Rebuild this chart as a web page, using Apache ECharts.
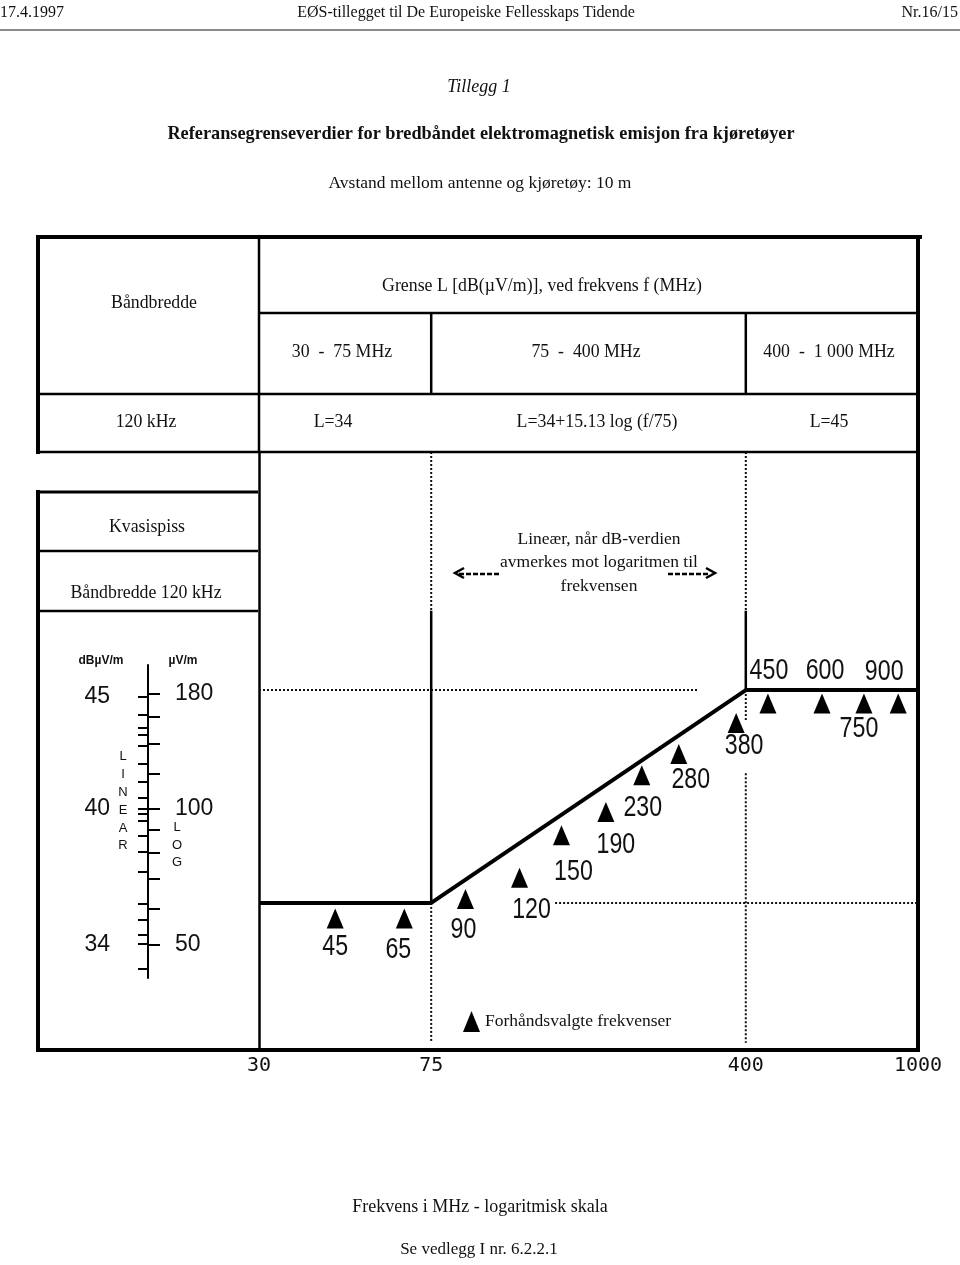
<!DOCTYPE html>
<html><head><meta charset="utf-8">
<script src="https://cdn.jsdelivr.net/npm/echarts@6/dist/echarts.min.js"></script>
<style>html,body{margin:0;padding:0;background:#fff}#c{width:960px;height:1265px}</style>
</head><body><div id="c"></div>
<script>
// ---------------- data ----------------
const limitFreqs = [30, 75, 400, 1000];            // MHz
const limitDb = [34, 34, 45, 45];                 // dB(µV/m)
const bandEdges = [75, 400];                      // MHz
const xTickLabels = [30, 75, 400, 1000];          // MHz
const upperGuideFreqs = [30, 310];  const upperGuideDb = 45;
const lowerGuideFreqs = [145, 1000]; const lowerGuideDb = 34;
const presetLabels = ['45','65','90','120','150','190','230','280','380','450','600','750','900'];
const presetFreqs = [45, 65, 90, 120, 150, 190, 230, 280, 380, 450, 600, 750, 900];
const presetDb = [33.2, 33.2, 34.2, 35.3, 37.5, 38.7, 40.6, 41.7, 43.3, 44.3, 44.3, 44.3, 44.3];
const scaleDbLabels = [45, 40, 34];
const scaleDbTicks = [45, 44.2, 43.6, 43.3, 42.8, 42, 41.2, 40.5, 40, 39.8, 39.5, 38.8, 38.1, 37.2, 35.8, 35.1, 34.4, 34, 32.9];
const scaleUvTicks = [50, 60, 70, 80, 90, 100, 120, 140, 160, 180];
const scaleUvLabels = [50, 100, 180];

// ---------------- styles / frame ----------------
const SERIF = '"Liberation Serif","Times New Roman",serif';
const MONO = '"DejaVu Sans Mono","Liberation Mono",monospace';
const SANS = '"Liberation Sans",Arial,sans-serif';
const Y_MIN = 26.4, Y_MAX = 57.3, FRAME_TOP = 49.1, EDGE_END = 26.77;
const edgeGaps = {400: [43.35, 40.7]};
const labelOffsets = [[0,29],[-6,32],[-2,31],[12,32],[12,37],[10,33],[1,33],[12,26],[8,23],[1,-33],[3,-33],[-5,25],[-14,-32]];

const toDb = uv => 20 * Math.log10(uv);
const limitAt = f => limitDb[limitFreqs.indexOf(f)];

const series = [];
series.push({type:'line', xAxisIndex:0, yAxisIndex:0, data: limitFreqs.map((f,i)=>[f, limitDb[i]]),
  symbol:'none', lineStyle:{color:'#000', width:4}, z:6, silent:true});
const dotted = {color:'#111', width:2, type:[2,2]};
series.push({type:'line', xAxisIndex:0, yAxisIndex:0, data: upperGuideFreqs.map(f=>[f, upperGuideDb]), symbol:'none', lineStyle:dotted, z:3, silent:true});
series.push({type:'line', xAxisIndex:0, yAxisIndex:0, data: lowerGuideFreqs.map(f=>[f, lowerGuideDb]), symbol:'none', lineStyle:dotted, z:3, silent:true});
bandEdges.forEach(f => {
  const L = limitAt(f);
  const segs = [[Y_MAX, FRAME_TOP, 'dot'], [FRAME_TOP, L, 'solid']];
  if (edgeGaps[f]) { segs.push([L, edgeGaps[f][0], 'dot']); segs.push([edgeGaps[f][1], EDGE_END, 'dot']); }
  else segs.push([L, EDGE_END, 'dot']);
  segs.forEach(s => series.push({type:'line', xAxisIndex:0, yAxisIndex:0, data:[[f, s[0]], [f, s[1]]], symbol:'none',
    lineStyle: s[2]==='dot' ? dotted : {color:'#000', width:2.5}, z:3, silent:true}));
});
// preselected frequencies: triangle + condensed label
series.push({type:'custom', name:'Forhåndsvalgte frekvenser', xAxisIndex:0, yAxisIndex:0,
  itemStyle:{color:'#000'}, z:8, silent:true,
  data: presetFreqs.map((f,i)=>[f, presetDb[i], i]),
  encode:{x:0, y:1},
  renderItem: (params, api) => {
    const i = api.value(2);
    const p = api.coord([api.value(0), api.value(1)]);
    const o = labelOffsets[i];
    return {type:'group', children:[
      {type:'polygon', shape:{points:[[p[0], p[1]-10],[p[0]+8.5, p[1]+10],[p[0]-8.5, p[1]+10]]}, style:{fill:'#000'}},
      {type:'text', x:p[0]+o[0], y:p[1]+o[1], scaleX:0.8,
       style:{text: presetLabels[i], font:'29px '+SANS, fill:'#111', align:'center', verticalAlign:'middle'}}
    ]};
  }
});

const option = {
  animation:false,
  backgroundColor:'#fff',
  grid:[
    {left:259, top:452, width:659, height:598},
    {left:148, top:665, width:20, height:313}
  ],
  xAxis:[
    {gridIndex:0, type:'log', logBase:10, min:30, max:1000,
     axisLine:{show:true, lineStyle:{color:'#000', width:4}}, axisTick:{show:false}, splitLine:{show:false},
     axisLabel:{customValues: xTickLabels, margin:6, fontFamily:MONO, fontSize:20, color:'#111',
       formatter: v => String(Math.round(v))}},
    {gridIndex:1, type:'value', min:0, max:1, show:false}
  ],
  yAxis:[
    {gridIndex:0, type:'value', min:Y_MIN, max:Y_MAX, axisLine:{show:true, lineStyle:{color:'#000', width:2.5}},
     axisTick:{show:false}, axisLabel:{show:false}, splitLine:{show:false}},
    {gridIndex:1, type:'value', min:32.5, max:46.4, position:'left',
     axisLine:{show:true, lineStyle:{color:'#000', width:2}},
     axisTick:{show:true, customValues: scaleDbTicks, length:10, lineStyle:{color:'#000', width:2}},
     axisLabel:{customValues: scaleDbLabels, margin:38, fontFamily:SANS, fontSize:23, color:'#111'},
     splitLine:{show:false}},
    {gridIndex:1, type:'value', min:32.5, max:46.4, position:'left',
     axisLine:{show:false},
     axisTick:{show:true, inside:true, customValues: scaleUvTicks.map(toDb), length:12, lineStyle:{color:'#000', width:2}},
     axisLabel:{inside:true, customValues: scaleUvLabels.map(toDb), margin:27, fontFamily:SANS, fontSize:23, color:'#111',
       formatter: v => String(Math.round(Math.pow(10, v/20)))},
     splitLine:{show:false}}
  ],
  legend:{data:[{name:'Forhåndsvalgte frekvenser', icon:'triangle'}], left:463, top:1011, itemWidth:17, itemHeight:21,
    padding:0, selectedMode:false, textStyle:{fontFamily:SERIF, fontSize:17.5, color:'#111'}},
  series
};

const chart = echarts.init(document.getElementById('c'), null, {renderer:'canvas'});
chart.setOption(option);

// ---------------- page / table graphics ----------------
let x75 = 431, x400 = 746;
try { x75 = chart.convertToPixel({xAxisIndex:0}, 75); x400 = chart.convertToPixel({xAxisIndex:0}, 400); } catch(e) {}
const txt = (x, y, text, font, align) => ({type:'text', x, y, silent:true, z:10,
  style:{text, font, fill:'#111', align: align||'center', verticalAlign:'middle'}});
const ln = (x1,y1,x2,y2,w,dash) => ({type:'line', silent:true, z:10, shape:{x1,y1,x2,y2},
  style:{stroke:'#000', lineWidth:w, lineDash: dash||null}});
const g = [];
g.push(txt(0, 13, '17.4.1997', '16px '+SERIF, 'left'));
g.push(txt(466, 13, 'EØS-tillegget til De Europeiske Fellesskaps Tidende', '16px '+SERIF));
g.push(txt(958, 13, 'Nr.16/15', '16px '+SERIF, 'right'));
g.push({type:'line', silent:true, shape:{x1:0,y1:30,x2:960,y2:30}, style:{stroke:'#8a8a8a', lineWidth:2}});
g.push(txt(479, 87, 'Tillegg 1', 'italic 18px '+SERIF));
g.push(txt(481, 134, 'Referansegrenseverdier for bredbåndet elektromagnetisk emisjon fra kjøretøyer', 'bold 18.3px '+SERIF));
g.push(txt(480, 183, 'Avstand mellom antenne og kjøretøy: 10 m', '17.5px '+SERIF));
// table frame
g.push(ln(36,237,922,237,4));
g.push(ln(38,235,38,454,4));
g.push(ln(918,235,918,1052,4));
g.push(ln(38,490,38,1052,4));
g.push(ln(36,1050,920,1050,4));
g.push(ln(258,313,918,313,2.5));
g.push(ln(38,394,918,394,2.5));
g.push(ln(38,452,918,452,2.5));
g.push(ln(259,237,259,452,2.5));
g.push(ln(x75,313,x75,394,2.5));
g.push(ln(x400,313,x400,394,2.5));
g.push(ln(38,492,258,492,3));
g.push(ln(38,551,258,551,2.5));
g.push(ln(38,611,258,611,2.5));
const F = '17.8px '+SERIF;
g.push(txt(154, 303, 'Båndbredde', F));
g.push(txt(542, 286, 'Grense L [dB(µV/m)], ved frekvens f (MHz)', F));
g.push(txt(342, 352, '30  -  75 MHz', F));
g.push(txt(586, 352, '75  -  400 MHz', F));
g.push(txt(829, 352, '400  -  1 000 MHz', F));
g.push(txt(146, 422, '120 kHz', F));
g.push(txt(333, 422, 'L=34', F));
g.push(txt(597, 422, 'L=34+15.13 log (f/75)', F));
g.push(txt(829, 422, 'L=45', F));
g.push(txt(147, 527, 'Kvasispiss', F));
g.push(txt(146, 593, 'Båndbredde 120 kHz', F));
const N = '17.5px '+SERIF;
g.push(txt(599, 539, 'Lineær, når dB-verdien', N));
g.push(txt(599, 562, 'avmerkes mot logaritmen til', N));
g.push(txt(599, 586, 'frekvensen', N));
g.push(ln(459,574,500,574,2.5,[5,2]));
g.push({type:'polyline', silent:true, z:10, shape:{points:[[464,568],[455,573],[464,578]]}, style:{stroke:'#000', lineWidth:2.5, fill:null}});
g.push(ln(668,574,710,574,2.5,[5,2]));
g.push({type:'polyline', silent:true, z:10, shape:{points:[[706,568],[715,573],[706,578]]}, style:{stroke:'#000', lineWidth:2.5, fill:null}});
g.push(txt(101, 661, 'dBµV/m', 'bold 12px '+SANS));
g.push(txt(183, 661, 'µV/m', 'bold 12px '+SANS));
g.push({type:'text', x:123, y:748, silent:true, z:10, style:{text:'L\nI\nN\nE\nA\nR', font:'13px '+SANS, fill:'#111', align:'center', verticalAlign:'top', lineHeight:17.8}});
g.push({type:'text', x:177, y:819, silent:true, z:10, style:{text:'L\nO\nG', font:'13px '+SANS, fill:'#111', align:'center', verticalAlign:'top', lineHeight:17.5}});
g.push(txt(480, 1207, 'Frekvens i MHz - logaritmisk skala', '18px '+SERIF));
g.push(txt(479, 1250, 'Se vedlegg I nr. 6.2.2.1', '17px '+SERIF));
chart.setOption({graphic: g});
</script>
</body></html>
